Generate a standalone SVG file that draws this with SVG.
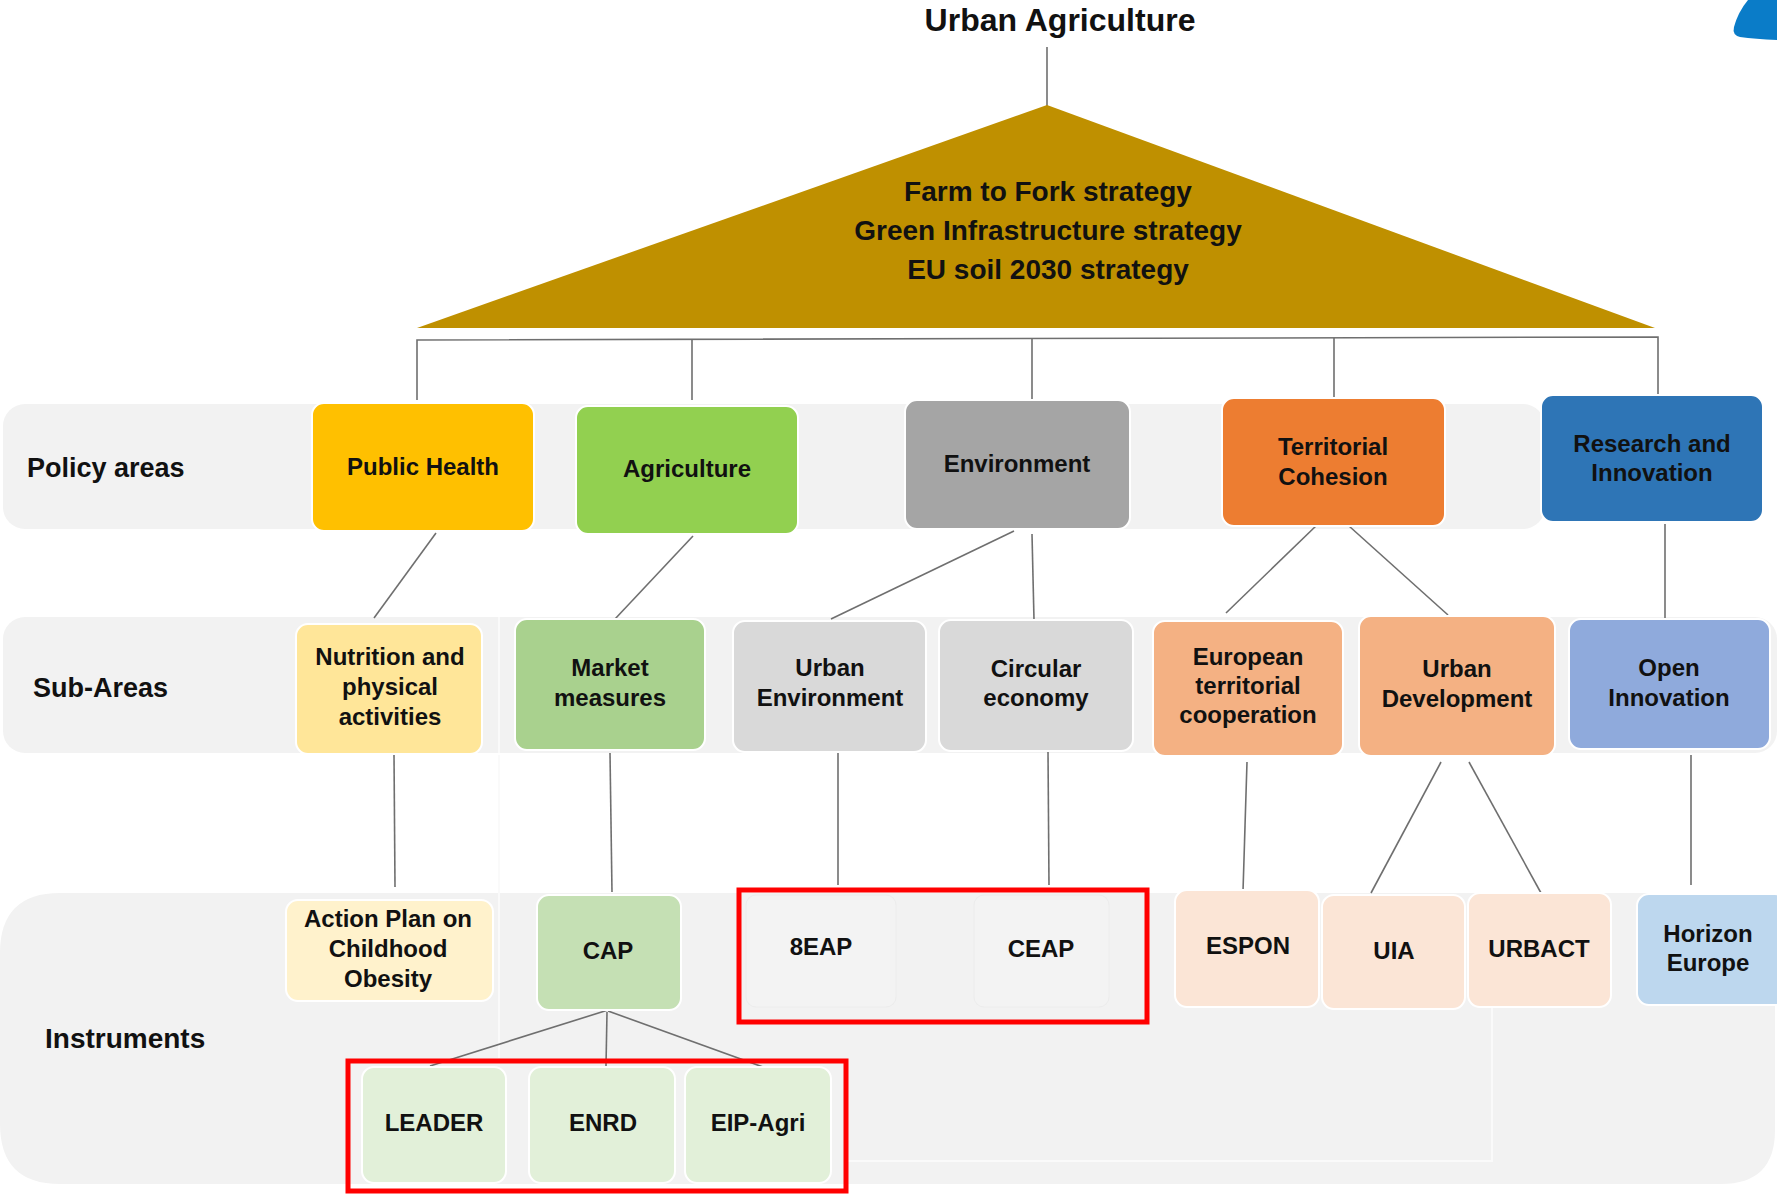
<svg xmlns="http://www.w3.org/2000/svg" width="1777" height="1194" viewBox="0 0 1777 1194">
<style>
.t{font-family:"Liberation Sans",Arial,sans-serif;font-weight:bold;font-size:24px;text-anchor:middle;fill:#111}
.lbl{font-family:"Liberation Sans",Arial,sans-serif;font-weight:bold;font-size:27px;fill:#111}
.band{fill:#F2F2F2}
.node{stroke:#FFFFFF;stroke-width:2}
.conn line, .conn polyline{stroke:#6F6F6F;stroke-width:1.6;fill:none}
.faint{stroke:#FAFAFA;stroke-width:2;fill:none}
.hl{fill:none;stroke:#FF0000;stroke-width:5}
</style>
<rect width="1777" height="1194" fill="#FFFFFF"/>

<!-- bands -->
<g id="bands">
  <rect class="band" x="3" y="404" width="1542" height="125" rx="22"/>
  <rect class="band" x="3" y="617" width="1774" height="136" rx="22"/>
  <path class="band" d="M60,893 L1775,893 L1775,1130 Q1775,1184 1721,1184 L60,1184 Q0,1184 0,1124 L0,953 Q0,893 60,893 Z"/>
  <path class="faint" d="M499,617 L499,753 M499,755 L499,893 M499,893 L499,1058 M848,1161 L1492,1161 L1492,1008"/>
</g>

<!-- decorative corner shape -->
<path id="corner-logo" d="M1748,0 L1777,0 L1777,40 Q1755,39 1740,37 Q1732,35 1734,27 Q1738,12 1748,0 Z" fill="#0A7CC8"/>

<!-- title -->
<g id="title">
  <text x="1060" y="31" style="font-family:'Liberation Sans',Arial,sans-serif;font-weight:bold;font-size:32px;text-anchor:middle;fill:#111">Urban Agriculture</text>
</g>

<!-- connectors -->
<g id="connectors" class="conn">
  <line x1="1047" y1="47" x2="1047" y2="106"/>
  <polyline points="417,400 417,340 1658,337 1658,397"/>
  <line x1="692" y1="339" x2="692" y2="400"/>
  <line x1="1032" y1="339" x2="1032" y2="400"/>
  <line x1="1334" y1="338" x2="1334" y2="398"/>
  <line x1="436" y1="533" x2="374" y2="618"/>
  <line x1="693" y1="536" x2="615" y2="619"/>
  <line x1="1014" y1="531" x2="831" y2="619"/>
  <line x1="1032" y1="534" x2="1034" y2="620"/>
  <line x1="1318" y1="524" x2="1226" y2="613"/>
  <line x1="1349" y1="526" x2="1448" y2="615"/>
  <line x1="1665" y1="524" x2="1665" y2="622"/>
  <line x1="394" y1="754" x2="395" y2="887"/>
  <line x1="610" y1="753" x2="612" y2="892"/>
  <line x1="838" y1="752" x2="838" y2="885"/>
  <line x1="1048" y1="751" x2="1049" y2="885"/>
  <line x1="1247" y1="762" x2="1243" y2="891"/>
  <line x1="1441" y1="762" x2="1371" y2="893"/>
  <line x1="1469" y1="762" x2="1541" y2="893"/>
  <line x1="1691" y1="755" x2="1691" y2="885"/>
  <line x1="608" y1="1010" x2="430" y2="1066"/>
  <line x1="607" y1="1012" x2="606" y2="1066"/>
  <line x1="608" y1="1011" x2="766" y2="1068"/>
</g>

<!-- strategies triangle -->
<g id="strategies">
  <polygon points="1047,105 417,328 1655,328" fill="#BF9000"/>
  <text class="t" style="font-size:28px" x="1048" y="201">Farm to Fork strategy</text>
  <text class="t" style="font-size:28px" x="1048" y="240">Green Infrastructure strategy</text>
  <text class="t" style="font-size:28px" x="1048" y="279">EU soil 2030 strategy</text>
</g>

<!-- row labels -->
<g id="row-labels">
  <text class="lbl" x="27" y="477">Policy areas</text>
  <text class="lbl" x="33" y="697">Sub-Areas</text>
  <text class="lbl" x="45" y="1048" style="font-size:28px">Instruments</text>
</g>

<!-- policy areas -->
<g id="public-health"><rect class="node" x="312" y="403" width="222" height="128" rx="12" fill="#FFC000"/><text class="t" x="423" y="475">Public Health</text></g>
<g id="agriculture"><rect class="node" x="576" y="406" width="222" height="128" rx="12" fill="#92D050"/><text class="t" x="687" y="477">Agriculture</text></g>
<g id="environment"><rect class="node" x="905" y="400" width="225" height="129" rx="12" fill="#A5A5A5"/><text class="t" x="1017" y="472">Environment</text></g>
<g id="territorial-cohesion"><rect class="node" x="1222" y="398" width="223" height="128" rx="12" fill="#ED7D31"/><text class="t" x="1333" y="455">Territorial</text><text class="t" x="1333" y="485">Cohesion</text></g>
<g id="research-innovation"><rect class="node" x="1541" y="395" width="222" height="127" rx="12" fill="#2E75B6"/><text class="t" x="1652" y="452">Research and</text><text class="t" x="1652" y="481">Innovation</text></g>

<!-- sub-areas -->
<g id="nutrition"><rect class="node" x="296" y="624" width="186" height="130" rx="12" fill="#FFE699"/><text class="t" x="390" y="665">Nutrition and</text><text class="t" x="390" y="695">physical</text><text class="t" x="390" y="725">activities</text></g>
<g id="market-measures"><rect class="node" x="515" y="619" width="190" height="131" rx="12" fill="#A9D18E"/><text class="t" x="610" y="676">Market</text><text class="t" x="610" y="706">measures</text></g>
<g id="urban-environment"><rect class="node" x="733" y="621" width="193" height="131" rx="12" fill="#D9D9D9"/><text class="t" x="830" y="676">Urban</text><text class="t" x="830" y="706">Environment</text></g>
<g id="circular-economy"><rect class="node" x="939" y="620" width="194" height="131" rx="12" fill="#D9D9D9"/><text class="t" x="1036" y="677">Circular</text><text class="t" x="1036" y="706">economy</text></g>
<g id="european-territorial-cooperation"><rect class="node" x="1153" y="621" width="190" height="135" rx="12" fill="#F4B183"/><text class="t" x="1248" y="665">European</text><text class="t" x="1248" y="694">territorial</text><text class="t" x="1248" y="723">cooperation</text></g>
<g id="urban-development"><rect class="node" x="1359" y="616" width="196" height="140" rx="12" fill="#F4B183"/><text class="t" x="1457" y="677">Urban</text><text class="t" x="1457" y="707">Development</text></g>
<g id="open-innovation"><rect class="node" x="1569" y="619" width="201" height="130" rx="12" fill="#8FAADC"/><text class="t" x="1669" y="676">Open</text><text class="t" x="1669" y="706">Innovation</text></g>

<!-- instruments -->
<g id="action-plan"><rect class="node" x="286" y="900" width="207" height="101" rx="12" fill="#FFF2CC"/><text class="t" x="388" y="927">Action Plan on</text><text class="t" x="388" y="957">Childhood</text><text class="t" x="388" y="987">Obesity</text></g>
<g id="cap"><rect class="node" x="537" y="895" width="144" height="115" rx="12" fill="#C5E0B4"/><text class="t" x="608" y="959">CAP</text></g>
<g id="8eap"><rect x="746" y="895" width="150" height="112" rx="10" fill="#F3F3F3" stroke="#ECECEC" stroke-width="1"/><text class="t" x="821" y="955">8EAP</text></g>
<g id="ceap"><rect x="974" y="895" width="135" height="112" rx="10" fill="#F3F3F3" stroke="#ECECEC" stroke-width="1"/><text class="t" x="1041" y="957">CEAP</text></g>
<g id="espon"><rect class="node" x="1175" y="890" width="144" height="117" rx="12" fill="#FBE5D6"/><text class="t" x="1248" y="954">ESPON</text></g>
<g id="uia"><rect class="node" x="1322" y="895" width="143" height="114" rx="12" fill="#FBE5D6"/><text class="t" x="1394" y="959">UIA</text></g>
<g id="urbact"><rect class="node" x="1468" y="893" width="143" height="114" rx="12" fill="#FBE5D6"/><text class="t" x="1539" y="957">URBACT</text></g>
<g id="horizon-europe"><rect class="node" x="1637" y="894" width="150" height="111" rx="12" fill="#BDD7EE"/><text class="t" x="1708" y="942">Horizon</text><text class="t" x="1708" y="971">Europe</text></g>
<g id="leader"><rect class="node" x="362" y="1067" width="144" height="116" rx="12" fill="#E2F0D9"/><text class="t" x="434" y="1131">LEADER</text></g>
<g id="enrd"><rect class="node" x="529" y="1067" width="146" height="116" rx="12" fill="#E2F0D9"/><text class="t" x="603" y="1131">ENRD</text></g>
<g id="eip-agri"><rect class="node" x="685" y="1067" width="146" height="116" rx="12" fill="#E2F0D9"/><text class="t" x="758" y="1131">EIP-Agri</text></g>

<!-- highlight frames -->
<g id="highlights">
  <rect class="hl" x="739" y="890" width="408" height="132"/>
  <rect class="hl" x="348" y="1061" width="498" height="130"/>
</g>
</svg>
